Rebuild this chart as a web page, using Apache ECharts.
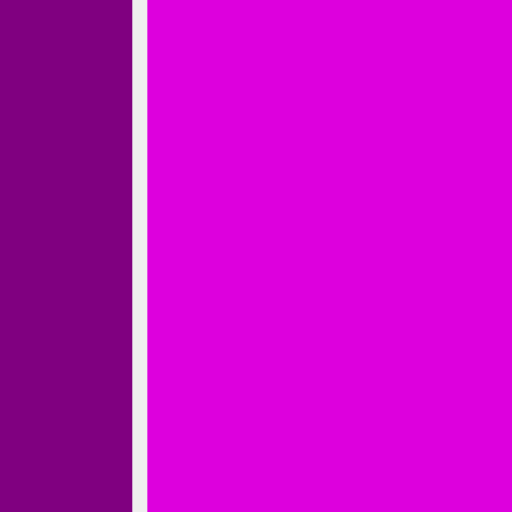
<!DOCTYPE html>
<html><head><meta charset="utf-8">
<script src="https://cdn.jsdelivr.net/npm/echarts@6/dist/echarts.min.js"></script>
<style>html,body{margin:0;padding:0;background:#efefef}#c{width:512px;height:512px}</style>
</head><body><div id="c"></div>
<script>
const names = ['other', 'tt_um_DanielZhu123']
const values = [664, 963]
const colors = ['#800080', '#dd00dd']
const chart = echarts.init(document.getElementById('c'))
chart.setOption({
  backgroundColor: '#efefef',
  series: [{
    type: 'treemap',
    left: -120, top: -300, width: 640, height: 988,
    sort: 'asc',
    roam: false, nodeClick: false,
    breadcrumb: { show: false },
    levels: [{ itemStyle: { gapWidth: 15, borderWidth: 0, borderColor: '#efefef' } }],
    data: names.map((n, i) => ({
      name: n, value: values[i],
      itemStyle: { color: colors[i], borderWidth: 0 }
    })),
    label: {
      show: true,
      position: 'inside',
      overflow: 'none',
      formatter: p => p.dataIndex === 0 || p.name === 'other' ? '' : '{v|' + p.value + '}\n{n|' + p.name + '}',
      rich: {
        v: { fontSize: 212, lineHeight: 230, color: '#ee82ee', fontFamily: 'Roboto', align: 'center' },
        n: { fontSize: 32, lineHeight: 40, color: '#ee82ee', fontFamily: 'Roboto', align: 'center' }
      }
    }
  }]
})
</script></body></html>
